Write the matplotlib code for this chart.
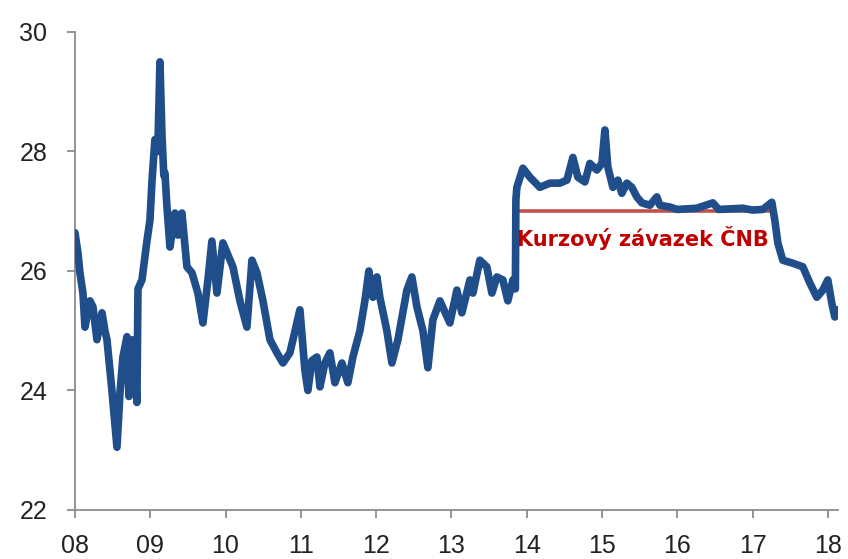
import matplotlib
matplotlib.use("Agg")
import matplotlib.pyplot as plt
from matplotlib.ticker import FixedLocator, FuncFormatter

# EUR/CZK exchange rate (decimal year, value)
years = [
    2008.000, 2008.040, 2008.066, 2008.106, 2008.133, 2008.199, 2008.239, 2008.292,
    2008.359, 2008.398, 2008.425, 2008.491, 2008.558, 2008.598, 2008.637, 2008.691,
    2008.717, 2008.770, 2008.823, 2008.837, 2008.890, 2008.956, 2008.996, 2009.023,
    2009.062, 2009.100, 2009.129, 2009.155, 2009.180, 2009.195, 2009.222, 2009.262,
    2009.328, 2009.370, 2009.400, 2009.421, 2009.487, 2009.554, 2009.633, 2009.700,
    2009.766, 2009.819, 2009.886, 2009.965, 2010.098, 2010.191, 2010.284, 2010.351,
    2010.417, 2010.497, 2010.590, 2010.683, 2010.762, 2010.855, 2010.988, 2011.054,
    2011.094, 2011.147, 2011.214, 2011.254, 2011.320, 2011.386, 2011.453, 2011.546,
    2011.625, 2011.692, 2011.785, 2011.851, 2011.904, 2011.958, 2012.011, 2012.050,
    2012.143, 2012.210, 2012.290, 2012.409, 2012.475, 2012.542, 2012.622, 2012.688,
    2012.754, 2012.847, 2012.980, 2013.073, 2013.139, 2013.246, 2013.286, 2013.378,
    2013.471, 2013.538, 2013.604, 2013.684, 2013.750, 2013.817, 2013.850, 2013.857,
    2013.870, 2013.950, 2014.042, 2014.175, 2014.308, 2014.441, 2014.534, 2014.614,
    2014.680, 2014.773, 2014.839, 2014.932, 2014.999, 2015.039, 2015.078, 2015.145,
    2015.211, 2015.264, 2015.331, 2015.397, 2015.463, 2015.530, 2015.636, 2015.729,
    2015.769, 2015.902, 2016.000, 2016.260, 2016.473, 2016.550, 2016.871, 2017.000,
    2017.137, 2017.256, 2017.296, 2017.336, 2017.402, 2017.535, 2017.668, 2017.761,
    2017.854, 2017.934, 2018.000, 2018.053, 2018.093, 2018.133,
]
values = [
    26.64, 26.30, 25.97, 25.63, 25.06, 25.50, 25.40, 24.85,
    25.30, 25.00, 24.85, 24.00, 23.05, 23.96, 24.56, 24.90,
    23.90, 24.85, 23.80, 25.70, 25.85, 26.50, 26.85, 27.50,
    28.20, 28.00, 29.50, 28.30, 27.60, 27.64, 27.07, 26.40,
    26.97, 26.60, 26.90, 26.97, 26.07, 25.97, 25.63, 25.13,
    25.85, 26.50, 25.63, 26.47, 26.07, 25.50, 25.06, 26.18,
    25.97, 25.50, 24.85, 24.63, 24.46, 24.63, 25.35, 24.34,
    24.00, 24.50, 24.56, 24.06, 24.46, 24.63, 24.13, 24.46,
    24.13, 24.56, 25.00, 25.50, 26.00, 25.56, 25.90, 25.56,
    25.00, 24.46, 24.85, 25.68, 25.90, 25.40, 25.00, 24.38,
    25.18, 25.50, 25.13, 25.68, 25.30, 25.85, 25.63, 26.18,
    26.07, 25.63, 25.90, 25.85, 25.50, 25.85, 25.70, 27.20,
    27.40, 27.72, 27.57, 27.40, 27.47, 27.47, 27.52, 27.90,
    27.57, 27.49, 27.80, 27.69, 27.80, 28.36, 27.74, 27.40,
    27.52, 27.30, 27.47, 27.40, 27.24, 27.14, 27.10, 27.24,
    27.10, 27.07, 27.03, 27.05, 27.14, 27.03, 27.05, 27.02,
    27.03, 27.15, 26.85, 26.47, 26.18, 26.13, 26.07, 25.80,
    25.56, 25.68, 25.85, 25.46, 25.23, 25.35,
]

commitment_start = 2013.857
commitment_end = 2017.27
commitment_level = 27.0
commitment_label = "Kurzový závazek ČNB"

y_ticks = [22, 24, 26, 28, 30]
x_ticks = list(range(2008, 2019))

plt.rcParams['font.family'] = ['Liberation Sans', 'DejaVu Sans']

fig = plt.figure(figsize=(8.48, 5.59), dpi=100)
ax = fig.add_axes([0.0884, 0.0877, 0.8996, 0.8551])

ax.plot(years, values, color='#1f4e8a', lw=5.5, solid_joinstyle='round',
        solid_capstyle='round', zorder=3)
ax.plot([commitment_start, commitment_end], [commitment_level, commitment_level],
        color='#c0504d', lw=2.6, zorder=2)
ax.text(commitment_start + 0.02, 26.41, commitment_label, color='#c00000',
        fontsize=15, fontweight='bold', family=['DejaVu Sans'],
        ha='left', va='baseline', zorder=4)

ax.set_xlim(2008, 2018.133)
ax.set_ylim(22, 30)
ax.xaxis.set_major_locator(FixedLocator(x_ticks))
ax.xaxis.set_major_formatter(FuncFormatter(lambda v, p: f"{int(round(v)) % 100:02d}"))
ax.yaxis.set_major_locator(FixedLocator(y_ticks))

for s in ['top', 'right']:
    ax.spines[s].set_visible(False)
for s in ['left', 'bottom']:
    ax.spines[s].set_color('#8c8c8c')
    ax.spines[s].set_linewidth(1.3)

ax.tick_params(axis='both', colors='#8c8c8c', labelcolor='#222222',
               labelsize=18, length=6, width=1.3, direction='out')
ax.tick_params(axis='x', pad=11)
ax.tick_params(axis='y', pad=14)

fig.savefig('out.png', dpi=100)
